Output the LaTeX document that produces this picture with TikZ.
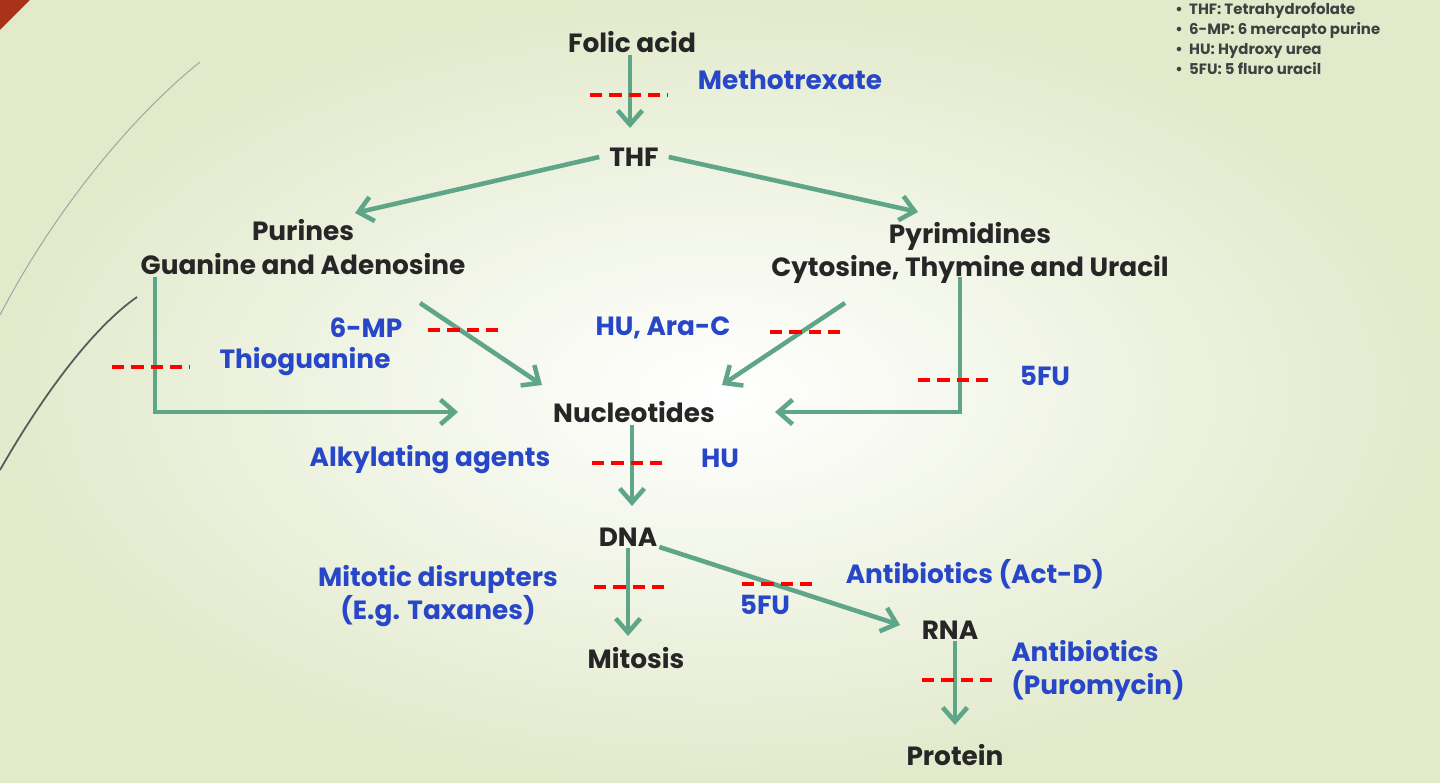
\documentclass[tikz,border=0pt]{standalone}
\usepackage{fontspec}
\setmainfont{Poppins}
\usetikzlibrary{arrows.meta}
\definecolor{arr}{RGB}{95,165,135}
\definecolor{bl}{RGB}{40,70,200}
\definecolor{bgout}{RGB}{226,234,204}
\definecolor{rust}{RGB}{170,50,25}
\begin{document}
\begin{tikzpicture}[x=0.02cm,y=-0.02cm,
 blk/.style={font=\bfseries\fontsize{15}{19}\selectfont,text=black!85,inner sep=1pt},
 blu/.style={font=\bfseries\fontsize{15}{19}\selectfont,text=bl,inner sep=1pt},
 ar/.style={draw=arr,line width=2.6pt,-{Straight Barb[length=8pt,width=14pt,line width=2.6pt]}},
 ln/.style={draw=arr,line width=2.6pt},
 inh/.style={draw=red,line width=2pt,dash pattern=on 7pt off 4pt}]
\shade[inner color=white,outer color=bgout] (0,0) rectangle (1440,783);
\useasboundingbox (0,0) rectangle (1440,783);
\fill[rust] (0,0) -- (30,0) -- (0,30) -- cycle;
\draw[gray!70,line width=0.6pt] (0,315) .. controls (60,200) and (140,110) .. (200,62);
\draw[gray!70!black,line width=1pt] (0,470) .. controls (40,400) and (90,330) .. (137,297);
% legend
\node[anchor=north west,align=left,font=\bfseries\fontsize{8.5}{11.5}\selectfont,text=black!75,inner sep=0pt] (leg) at (1175,2)
 {\textbullet\ \ THF: Tetrahydrofolate\\\textbullet\ \ 6-MP: 6 mercapto purine\\\textbullet\ \ HU: Hydroxy urea\\\textbullet\ \ 5FU: 5 fluro uracil};
% nodes
\node[blk] (folic) at (632,42) {Folic acid};
\node[blu] (mtx) at (790,80) {Methotrexate};
\node[blk] (thf) at (634,157) {THF};
\node[blk,align=center] (pur) at (303,247) {Purines\\Guanine and Adenosine};
\node[blk,align=center] (pyr) at (970,253) {Pyrimidines\\Cytosine, Thymine and Uracil};
\node[blu] (mp) at (366,328) {6-MP};
\node[blu] (hu1) at (663,328) {HU, Ara-C};
\node[blu] (thio) at (305,362) {Thioguanine};
\node[blu] (fu1) at (1045,376) {5FU};
\node[blk] (nuc) at (634,412) {Nucleotides};
\node[blu] (alk) at (430,460) {Alkylating agents};
\node[blu] (hu2) at (720,458) {HU};
\node[blk] (dna) at (628,537) {DNA};
\node[blu,align=center] (mit) at (438,596) {Mitotic disrupters\\(E.g. Taxanes)};
\node[blu] (actd) at (975,574) {Antibiotics (Act-D)};
\node[blu] (fu2) at (765,605) {5FU};
\node[blk] (mitosis) at (636,658) {Mitosis};
\node[blk] (rna) at (950,630) {RNA};
\node[blu,align=left] (puro) at (1098,671) {Antibiotics\\(Puromycin)};
\node[blk] (prot) at (955,755) {Protein};
% arrows
\draw[ar] (folic.south -| 630,0) -- (630,128);
\draw[ar] (thf.west) ++(-8,0) -- (355,213);
\draw[ar] (thf.east) ++(8,0) -- (918,212);
\draw[ar] (420,303) -- (542,385);
\draw[ar] (845,303) -- (722,385);
\coordinate (l1) at (155,277); \coordinate (l2) at (155,412);
\draw[ar] (l1) -- (l2) -- (458,412);
\coordinate (r1) at (960,277); \coordinate (r2) at (960,412);
\draw[ar] (r1) -- (r2) -- (775,412);
\draw[ar] (nuc.south -| 632,0) -- (632,506);
\draw[ar] (dna.south -| 628,0) -- (628,636);
\draw[ar] (dna.east) ++(0,10) -- (900,625);
\draw[ar] (rna.south -| 955,0) -- (955,725);
% inhibition dashes
\draw[inh] (590,95) -- (668,95);
\draw[inh] (428,330) -- (503,330);
\draw[inh] (770,332) -- (846,332);
\draw[inh] (112,367) -- (190,367);
\draw[inh] (918,380) -- (995,380);
\draw[inh] (592,463) -- (668,463);
\draw[inh] (594,587) -- (670,587);
\draw[inh] (742,584) -- (818,584);
\draw[inh] (922,680) -- (998,680);
\end{tikzpicture}
\end{document}
